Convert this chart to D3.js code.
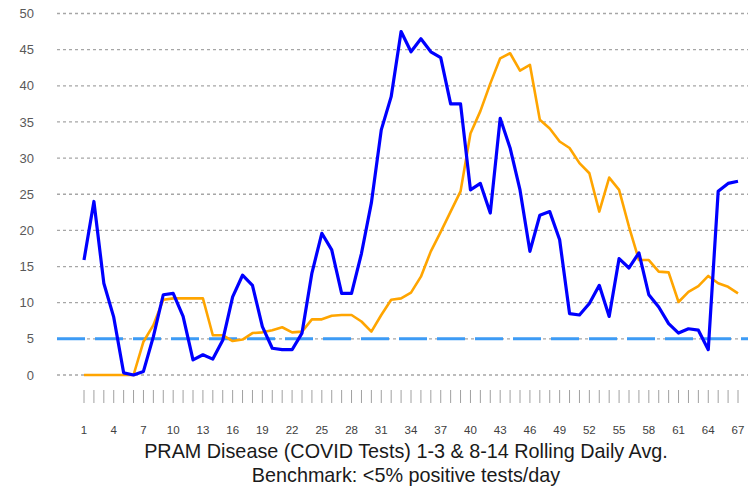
<!DOCTYPE html>
<html>
<head>
<meta charset="utf-8">
<script src="https://cdn.jsdelivr.net/npm/d3@7"></script>
<style>
  html, body { margin: 0; padding: 0; background: #fff; }
  svg { display: block; font-family: "Liberation Sans", Arial, sans-serif; }
</style>
</head>
<body>
<svg id="chart" width="750" height="488"></svg>
<script>
// ---- Data ----
const days = d3.range(1, 68); // 1..67
const rolling13 = [15.9, 24.0, 12.7, 8.0, 0.3, 0, 0.5, 5.3, 11.1, 11.3,
  8.1, 2.1, 2.8, 2.2, 4.8, 10.8, 13.8, 12.4, 6.7, 3.7,
  3.5, 3.5, 5.8, 14.1, 19.6, 17.3, 11.3, 11.3, 16.8, 23.8,
  33.9, 38.5, 47.5, 44.7, 46.5, 44.7, 43.9, 37.5, 37.5, 25.6,
  26.5, 22.4, 35.5, 31.4, 25.6, 17.1, 22.1, 22.6, 18.7, 8.5,
  8.3, 9.9, 12.4, 8.1, 16.1, 14.8, 16.9, 11.1, 9.4, 7.1,
  5.8, 6.4, 6.2, 3.5, 25.4, 26.5, 26.8];
const rolling814 = [0, 0, 0, 0, 0, 0, 4.6, 6.9, 10.4, 10.6,
  10.6, 10.6, 10.6, 5.5, 5.5, 4.7, 4.9, 5.8, 5.9, 6.2,
  6.6, 5.9, 6.0, 7.7, 7.7, 8.2, 8.3, 8.3, 7.4, 6.0,
  8.3, 10.4, 10.6, 11.4, 13.6, 17.1, 19.8, 22.6, 25.4, 33.4,
  36.5, 40.3, 43.8, 44.5, 42.1, 42.9, 35.3, 34.1, 32.3, 31.4,
  29.3, 27.9, 22.6, 27.3, 25.6, 20.5, 15.9, 15.9, 14.3, 14.2,
  10.1, 11.5, 12.3, 13.7, 12.7, 12.2, 11.3];
const benchmark = 5;
const yTicks = [0, 5, 10, 15, 20, 25, 30, 35, 40, 45, 50];
const xTickLabels = d3.range(1, 68, 3); // 1,4,...,67
const titleLines = ["PRAM Disease (COVID Tests) 1-3 & 8-14 Rolling Daily Avg.",
                    "Benchmark: <5% positive tests/day"];

// ---- Layout ----
const svg = d3.select("#chart");
const x = d3.scaleLinear().domain([1, 67]).range([84, 738]);
const y = d3.scaleLinear().domain([0, 50]).range([375, 13.5]);
const gridX0 = 57, gridX1 = 748;

// gridlines
svg.append("g").selectAll("line").data(yTicks).join("line")
  .attr("x1", gridX0).attr("x2", gridX1)
  .attr("y1", d => y(d)).attr("y2", d => y(d))
  .attr("stroke", "#a6a6a6").attr("stroke-width", 1.3)
  .attr("stroke-dasharray", "3,3");

// y labels
svg.append("g").selectAll("text").data(yTicks).join("text")
  .attr("x", 34).attr("y", d => y(d)).attr("dy", "0.35em")
  .attr("text-anchor", "end")
  .attr("font-size", 13).attr("fill", "#595959")
  .text(d => d);

// benchmark line
svg.append("line")
  .attr("x1", gridX0).attr("x2", gridX1)
  .attr("y1", y(benchmark)).attr("y2", y(benchmark))
  .attr("stroke", "#3d9bf5").attr("stroke-width", 3)
  .attr("stroke-dasharray", "28,10");

// x tick marks (each category)
svg.append("g").selectAll("line").data(days).join("line")
  .attr("x1", d => x(d)).attr("x2", d => x(d))
  .attr("y1", 390).attr("y2", 403)
  .attr("stroke", "#a0a0a0").attr("stroke-width", 1);

// x tick labels
svg.append("g").selectAll("text").data(xTickLabels).join("text")
  .attr("x", d => x(d)).attr("y", 430).attr("dy", "0.35em")
  .attr("text-anchor", "middle")
  .attr("font-size", 11.5).attr("fill", "#404040")
  .text(d => d);

// lines
const line = d3.line().x((d, i) => x(days[i])).y(d => y(d));
svg.append("path").datum(rolling814)
  .attr("d", line).attr("fill", "none")
  .attr("stroke", "#ffa500").attr("stroke-width", 2.6)
  .attr("stroke-linejoin", "round");
svg.append("path").datum(rolling13)
  .attr("d", line).attr("fill", "none")
  .attr("stroke", "#0000ff").attr("stroke-width", 3.2)
  .attr("stroke-linejoin", "round");

// title / axis caption
svg.append("g").selectAll("text").data(titleLines).join("text")
  .attr("x", 406).attr("y", (d, i) => 451 + i * 24).attr("dy", "0.35em")
  .attr("text-anchor", "middle")
  .attr("font-size", 19.8).attr("fill", "#1a1a1a")
  .text(d => d);
</script>
</body>
</html>
